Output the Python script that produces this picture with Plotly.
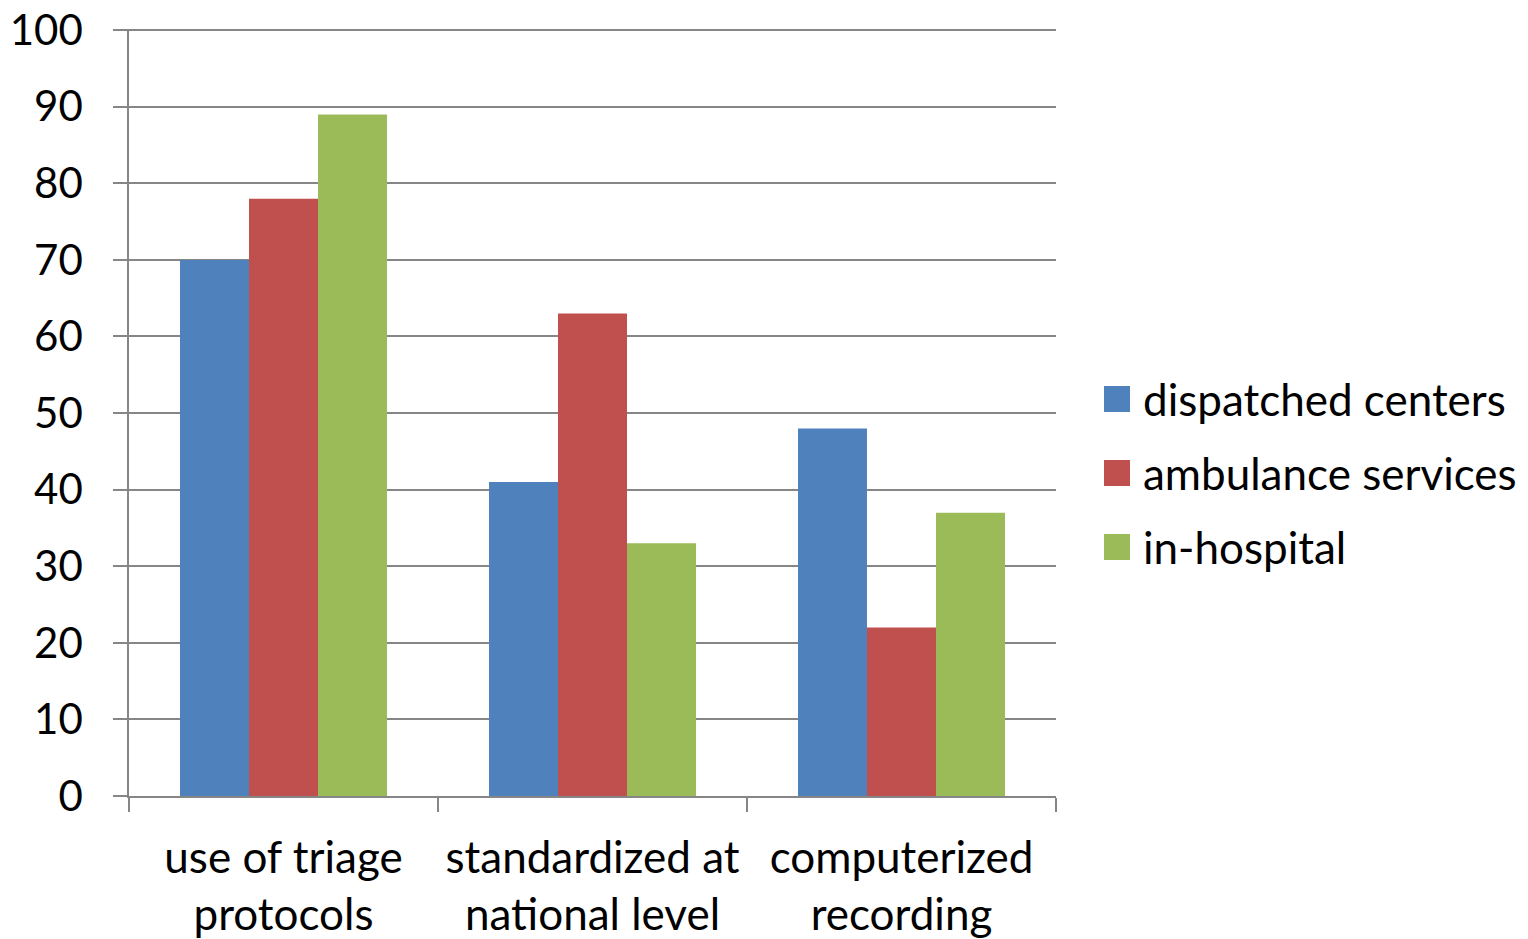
import plotly.graph_objects as go

categories = ["use of triage<br>protocols", "standardized at<br>national level", "computerized<br>recording"]
dispatched = [70, 41, 48]
ambulance = [78, 63, 22]
inhospital = [89, 33, 37]
series_names = ["dispatched centers", "ambulance services", "in-hospital"]
colors = ["#4F81BD", "#C0504D", "#9BBB59"]

W, H = 1520, 931
ML, MR, MT, MB = 121, 472, 21, 143
PW, PH = W - ML - MR, H - MT - MB

def px_x(p):
    return (p - ML) / PW

def px_y(p):
    return (H - MB - p) / PH

fig = go.Figure()
for name, vals, col in zip(series_names, [dispatched, ambulance, inhospital], colors):
    fig.add_trace(go.Bar(x=categories, y=vals, name=name, showlegend=False,
                         marker=dict(color=col, line=dict(width=0))))

font = "Lato, 'Open Sans', sans-serif"

# legend drawn as swatches + labels (larger square swatches like the original)
shapes, annotations = [], []
for i, (name, col) in enumerate(zip(series_names, colors)):
    cy = 391 + 74 * i
    shapes.append(dict(type="rect", xref="paper", yref="paper",
                       x0=px_x(1096), x1=px_x(1122), y0=px_y(cy + 13), y1=px_y(cy - 13),
                       fillcolor=col, line=dict(width=0)))
    annotations.append(dict(text=name, xref="paper", yref="paper",
                            x=px_x(1133), y=px_y(cy), xanchor="left", yanchor="middle",
                            showarrow=False, font=dict(size=44, family=font, color="black")))

fig.update_layout(
    width=W, height=H,
    margin=dict(l=ML, r=MR, t=MT, b=MB),
    paper_bgcolor="white", plot_bgcolor="white",
    barmode="group", bargap=0.33, bargroupgap=0,
    font=dict(family=font, size=44, color="black"),
    showlegend=False,
    shapes=shapes, annotations=annotations,
)
fig.update_xaxes(
    automargin=False,
    showline=True, linecolor="#868686", linewidth=1.5,
    ticks="outside", ticklen=14, tickcolor="#868686", tickwidth=1.5,
    tickson="boundaries", showgrid=False,
    tickfont=dict(size=44), ticklabelstandoff=22,
)
fig.update_yaxes(
    automargin=False,
    range=[0, 100.15], tickvals=[0, 10, 20, 30, 40, 50, 60, 70, 80, 90, 100],
    showline=True, linecolor="#868686", linewidth=1.5,
    ticks="outside", ticklen=14, tickcolor="#868686", tickwidth=1.5,
    showgrid=True, gridcolor="#868686", gridwidth=1.5,
    zeroline=False, tickfont=dict(size=42), ticklabelstandoff=22,
    ticklabeloverflow="allow",
)
fig.write_html("out.html")
